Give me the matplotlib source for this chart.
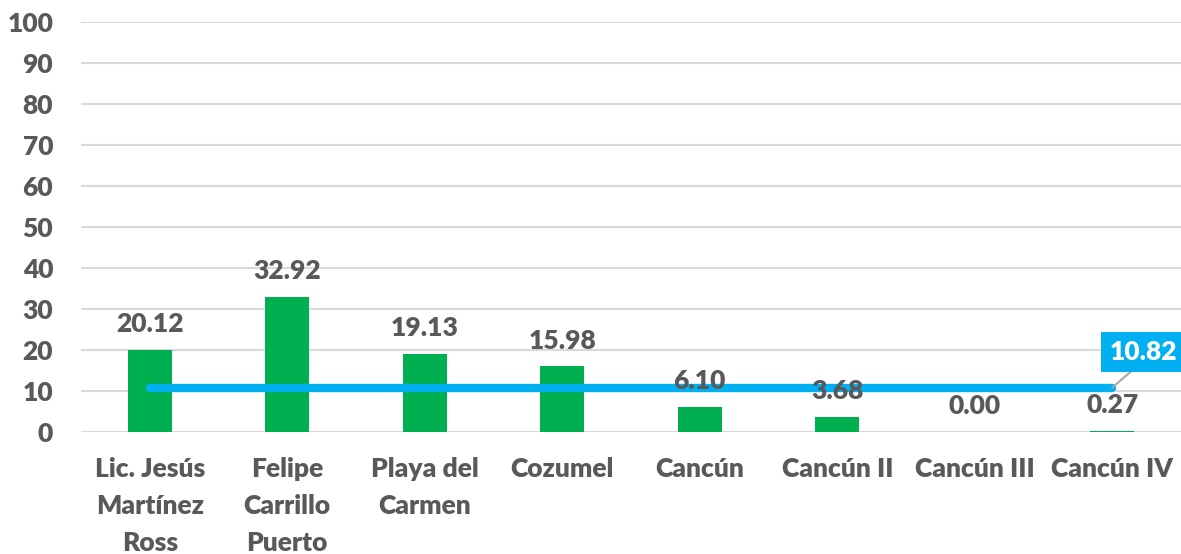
import matplotlib
matplotlib.use("Agg")
import matplotlib.pyplot as plt
import numpy as np

categories = ["Lic. Jesús\nMartínez\nRoss", "Felipe\nCarrillo\nPuerto", "Playa del\nCarmen",
              "Cozumel", "Cancún", "Cancún II", "Cancún III", "Cancún IV"]
values = [20.12, 32.92, 19.13, 15.98, 6.10, 3.68, 0.00, 0.27]
average = 10.82
yticks = [0, 10, 20, 30, 40, 50, 60, 70, 80, 90, 100]

plt.rcParams['font.family'] = ['Lato', 'DejaVu Sans']
TXT = '#595959'
FS = 19
FW = 'heavy'

fig = plt.figure(figsize=(11.81, 5.54), dpi=100)
ax = fig.add_axes([81/1181, (554-432)/554, 1100/1181, 410/554])

x = np.arange(len(categories))
ax.bar(x, values, width=0.32, color='#00B050', zorder=2)
avg = [average] * len(categories)
ax.plot(x, avg, color='#00B0F0', lw=6, solid_capstyle='round', zorder=3)

for xi, v in zip(x, values):
    ax.annotate(f"{v:.2f}", (xi, v), xytext=(0, 10), textcoords='offset points',
                ha='center', va='bottom', fontsize=FS, fontweight=FW, color=TXT, zorder=4)

ax.annotate(f"{average:.2f}", (x[-1], average), xytext=(1143, 554 - 352), textcoords='figure pixels',
            ha='center', va='center', fontsize=FS, fontweight=FW, color='white',
            bbox=dict(boxstyle='square,pad=0.3', fc='#00B0F0', ec='none'),
            arrowprops=dict(arrowstyle='-', color='#A6A6A6', lw=1.5, shrinkA=0, shrinkB=0,
                            relpos=(0.45, 0.0)), zorder=5)

ax.set_xlim(-0.5, len(categories) - 0.5)
ax.set_ylim(0, 100)
ax.set_yticks(yticks)
ax.set_yticklabels([str(t) for t in yticks], fontsize=FS, fontweight=FW, color=TXT)
ax.set_xticks(x)
ax.set_xticklabels(categories, fontsize=FS, fontweight=FW, color=TXT, linespacing=1.65)
ax.tick_params(axis='y', length=0, pad=20)
ax.tick_params(axis='x', length=0, pad=18)
ax.grid(axis='y', color='#D9D9D9', lw=1.5, zorder=0)
ax.set_axisbelow(True)
for s in ax.spines.values():
    s.set_visible(False)

fig.savefig("out.png", dpi=100)
